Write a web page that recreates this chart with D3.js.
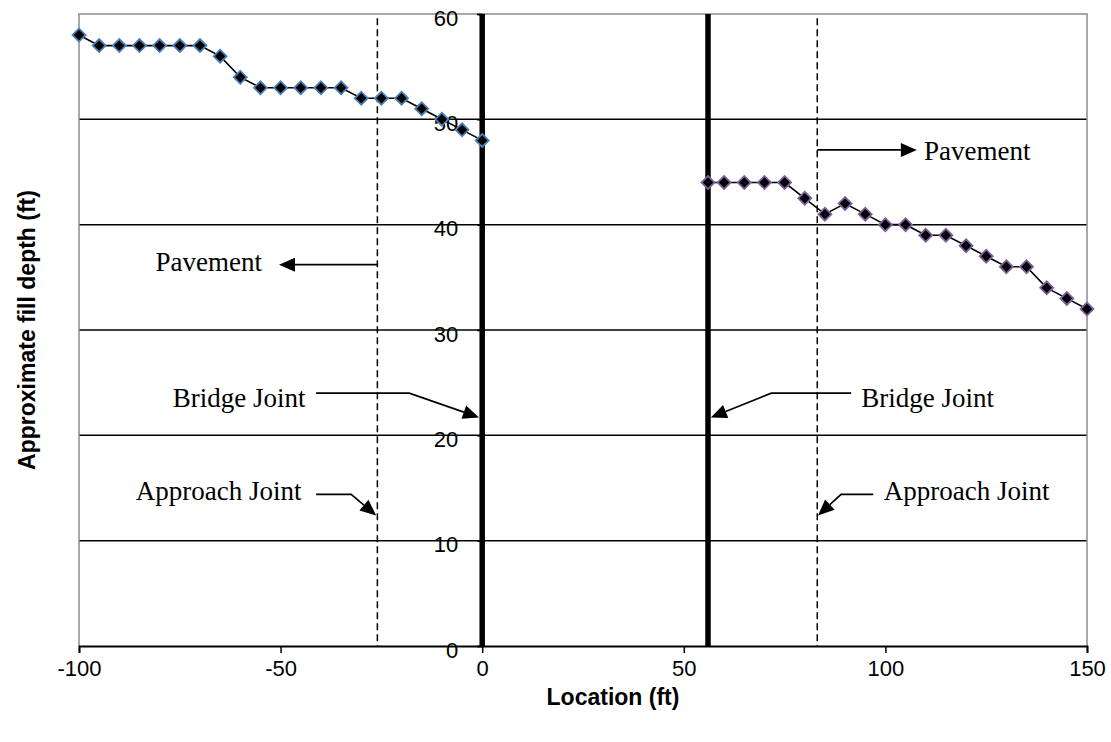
<!DOCTYPE html>
<html>
<head>
<meta charset="utf-8">
<script src="https://cdn.jsdelivr.net/npm/d3@7"></script>
<style>
  html, body { margin: 0; padding: 0; background: #fff; }
  svg { display: block; }
</style>
</head>
<body>
<svg id="chart" width="1111" height="742"></svg>
<script>
// ---- Data ----
const approachLocations = [-100, -95, -90, -85, -80, -75, -70, -65, -60, -55, -50, -45, -40, -35, -30, -25, -20, -15, -10, -5, 0];
const approachDepths    = [58, 57, 57, 57, 57, 57, 57, 56, 54, 53, 53, 53, 53, 53, 52, 52, 52, 51, 50, 49, 48];

const departLocations = [56, 60, 65, 70, 75, 80, 85, 90, 95, 100, 105, 110, 115, 120, 125, 130, 135, 140, 145, 150];
const departDepths    = [44, 44, 44, 44, 44, 42.5, 41, 42, 41, 40, 40, 39, 39, 38, 37, 36, 36, 34, 33, 32];

const xTicks = [-100, -50, 0, 50, 100, 150];
const yTicks = [0, 10, 20, 30, 40, 50, 60];
const gridValues = [10, 20, 30, 40, 50];

const bridgeJoints = [0, 56];
const approachJoints = [-26, 83.1];

const xTitle = "Location (ft)";
const yTitle = "Approximate fill depth (ft)";

// annotation callouts (text + leader path in data units)
const annotations = [
  { label: "Pavement",       tx: -54.6, ty: 36.5, anchor: "end",   path: [[-26, 36.2], [-50.4, 36.2]] },
  { label: "Pavement",       tx: 109.6, ty: 47.0, anchor: "start", path: [[83.1, 47.1], [107.8, 47.1]] },
  { label: "Bridge Joint",   tx: -43.8, ty: 23.6, anchor: "end",   path: [[-41.2, 24.0], [-18.1, 24.0], [-0.8, 21.7]] },
  { label: "Bridge Joint",   tx: 94.0,  ty: 23.6, anchor: "start", path: [[91.5, 24.0], [71.7, 24.0], [56.7, 21.7]] },
  { label: "Approach Joint", tx: -44.8, ty: 14.8, anchor: "end",   path: [[-41.2, 14.4], [-32.5, 14.4], [-26.3, 12.4]] },
  { label: "Approach Joint", tx: 99.6,  ty: 14.8, anchor: "start", path: [[97.0, 14.4], [89.0, 14.4], [83.3, 12.4]] }
];

// ---- Layout ----
const svg = d3.select("#chart");
const x = d3.scaleLinear().domain([-100, 150]).range([79, 1087]);
const y = d3.scaleLinear().domain([0, 60]).range([646, 14]);

// gridlines
svg.append("g").selectAll("line").data(gridValues).join("line")
  .attr("x1", x(-100)).attr("x2", x(150))
  .attr("y1", d => y(d)).attr("y2", d => y(d))
  .attr("stroke", "#000").attr("stroke-width", 1.5);

// plot border (left, top, right) in gray
svg.append("path")
  .attr("d", `M${x(-100)},${y(0)}V${y(60)}H${x(150)}V${y(0)}`)
  .attr("fill", "none").attr("stroke", "#8c8c8c").attr("stroke-width", 1.5);

// approach joint dashed lines
svg.append("g").selectAll("line").data(approachJoints).join("line")
  .attr("x1", d => x(d)).attr("x2", d => x(d))
  .attr("y1", y(59.6)).attr("y2", y(0))
  .attr("stroke", "#000").attr("stroke-width", 1.5)
  .attr("stroke-dasharray", "7,4");

// x axis
const xAxis = svg.append("g")
  .attr("transform", `translate(0,${y(0)})`)
  .call(d3.axisBottom(x).tickValues(xTicks).tickSize(7).tickPadding(7).tickFormat(d => String(d)));
xAxis.select(".domain").attr("stroke", "#000").attr("stroke-width", 1.8);
xAxis.selectAll(".tick line").attr("stroke", "#000").attr("stroke-width", 1.5);
xAxis.selectAll("text").attr("font-family", "Arial, 'Liberation Sans', sans-serif").attr("font-size", 22).attr("fill", "#000");

// y axis crossing at x = 0
const yAxis = svg.append("g")
  .attr("transform", `translate(${x(0)},0)`)
  .call(d3.axisLeft(y).tickValues(yTicks).tickSize(5).tickPadding(19).tickFormat(d => String(d)));
yAxis.select(".domain").attr("stroke", "#000").attr("stroke-width", 1.5);
yAxis.selectAll(".tick line").attr("stroke", "#000").attr("stroke-width", 1.5);
yAxis.selectAll("text").attr("font-family", "Arial, 'Liberation Sans', sans-serif").attr("font-size", 22).attr("fill", "#000").attr("dy", "0.5em");

// bridge joints (thick lines)
svg.append("g").selectAll("line").data(bridgeJoints).join("line")
  .attr("x1", d => x(d)).attr("x2", d => x(d))
  .attr("y1", y(60)).attr("y2", y(0))
  .attr("stroke", "#000").attr("stroke-width", 5.5);

// series
const line = d3.line().x(d => x(d[0])).y(d => y(d[1]));
const diamond = d3.symbol().type(d3.symbolSquare).size(84);

function drawSeries(xs, ys, outline) {
  const pts = xs.map((v, i) => [v, ys[i]]);
  svg.append("path").datum(pts).attr("d", line)
    .attr("fill", "none").attr("stroke", "#000").attr("stroke-width", 1.6);
  svg.append("g").selectAll("path").data(pts).join("path")
    .attr("d", diamond)
    .attr("transform", d => `translate(${x(d[0])},${y(d[1])}) rotate(45)`)
    .attr("fill", "#000").attr("stroke", outline).attr("stroke-width", 1.8);
}
drawSeries(approachLocations, approachDepths, "#4a7ebb");
drawSeries(departLocations, departDepths, "#7d60a0");

// annotations
const ag = svg.append("g");
annotations.forEach(a => {
  const pts = a.path.map(p => [x(p[0]), y(p[1])]);
  const n = pts.length;
  const tip = pts[n - 1], prev = pts[n - 2];
  const dx = tip[0] - prev[0], dy = tip[1] - prev[1];
  const len = Math.hypot(dx, dy);
  const ux = dx / len, uy = dy / len;
  const headL = 16, headW = 7;
  const bx = tip[0] - ux * headL, by = tip[1] - uy * headL;
  const linePts = pts.slice(0, n - 1).concat([[bx, by]]);
  ag.append("path")
    .attr("d", d3.line()(linePts))
    .attr("fill", "none").attr("stroke", "#000").attr("stroke-width", 1.7);
  ag.append("path")
    .attr("d", `M${tip[0]},${tip[1]}L${bx - uy * headW},${by + ux * headW}L${bx + uy * headW},${by - ux * headW}Z`)
    .attr("fill", "#000");
  ag.append("text")
    .attr("x", x(a.tx)).attr("y", y(a.ty))
    .attr("dy", "0.35em")
    .attr("text-anchor", a.anchor)
    .attr("font-family", "'Liberation Serif', 'Times New Roman', serif")
    .attr("font-size", 27)
    .attr("fill", "#000")
    .text(a.label);
});

// axis titles
svg.append("text")
  .attr("x", (x(-100) + x(150)) / 2 + 30).attr("y", 705)
  .attr("text-anchor", "middle")
  .attr("font-family", "Arial, 'Liberation Sans', sans-serif")
  .attr("font-weight", "bold").attr("font-size", 23)
  .text(xTitle);

svg.append("text")
  .attr("transform", `translate(35,${(y(0) + y(60)) / 2}) rotate(-90)`)
  .attr("text-anchor", "middle")
  .attr("font-family", "Arial, 'Liberation Sans', sans-serif")
  .attr("font-weight", "bold").attr("font-size", 23)
  .text(yTitle);
</script>
</body>
</html>
